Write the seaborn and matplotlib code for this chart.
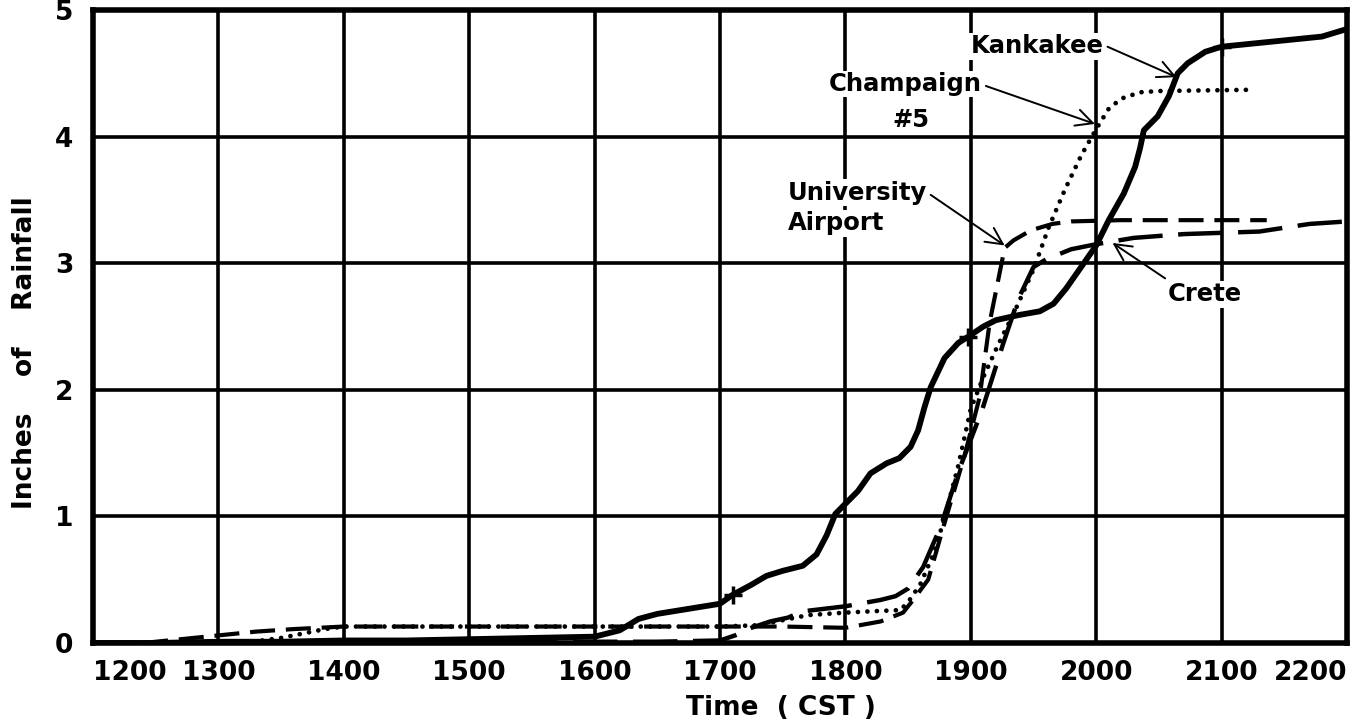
import matplotlib
matplotlib.use("Agg")
import matplotlib.pyplot as plt
import seaborn as sns

# Axis ticks (time in decimal hours, rainfall in inches)
hours = list(range(12, 23))
hour_labels = [f"{h}00" for h in hours]
inch_ticks = [0, 1, 2, 3, 4, 5]

# Cumulative rainfall curves (time in decimal hours CST, inches)
kankakee_t = [12.0, 12.5, 13.0, 13.5, 14.0, 14.5, 15.0, 15.5, 16.0, 16.2, 16.35, 16.5,
              16.75, 17.0, 17.1, 17.25, 17.37, 17.5, 17.66, 17.77, 17.85, 17.92, 18.0,
              18.1, 18.2, 18.33, 18.43, 18.52, 18.58, 18.63, 18.68, 18.79, 18.9, 18.98,
              19.1, 19.2, 19.38, 19.55, 19.66, 19.76, 19.88, 20.0, 20.1, 20.22, 20.31,
              20.35, 20.38, 20.49, 20.58, 20.65, 20.73, 20.87, 21.0, 21.3, 21.8, 22.0]
kankakee_in = [0.0, 0.0, 0.01, 0.01, 0.02, 0.02, 0.03, 0.04, 0.05, 0.10, 0.19, 0.23,
               0.27, 0.31, 0.38, 0.46, 0.53, 0.57, 0.61, 0.70, 0.85, 1.02, 1.10,
               1.20, 1.34, 1.42, 1.46, 1.55, 1.68, 1.86, 2.02, 2.25, 2.37, 2.42,
               2.50, 2.55, 2.59, 2.62, 2.68, 2.80, 2.97, 3.14, 3.34, 3.55, 3.76,
               3.91, 4.05, 4.16, 4.32, 4.50, 4.58, 4.67, 4.71, 4.74, 4.79, 4.85]

champaign_t = [13.35, 13.5, 13.7, 13.85, 14.0, 14.5, 15.0, 15.5, 16.0, 16.5, 17.0, 17.3,
               17.5, 17.7, 18.0, 18.2, 18.44, 18.52, 18.6, 18.71, 18.8, 18.9, 19.0, 19.1,
               19.22, 19.35, 19.5, 19.62, 19.75, 19.88, 20.0, 20.1, 20.2, 20.35, 20.5, 21.25]
champaign_in = [0.02, 0.04, 0.08, 0.11, 0.13, 0.13, 0.13, 0.13, 0.13, 0.13, 0.13, 0.14,
                0.18, 0.22, 0.24, 0.25, 0.26, 0.35, 0.47, 0.72, 1.02, 1.40, 1.85, 2.10,
                2.36, 2.62, 2.95, 3.28, 3.58, 3.85, 4.06, 4.22, 4.30, 4.35, 4.36, 4.37]

airport_t = [12.4, 12.7, 13.0, 13.3, 13.6, 14.0, 15.0, 16.0, 17.0, 17.5, 18.0, 18.28,
             18.46, 18.54, 18.66, 18.8, 18.95, 19.07, 19.15, 19.27, 19.34, 19.48, 19.65,
             19.8, 20.2, 21.0, 21.36]
airport_in = [0.0, 0.03, 0.06, 0.09, 0.11, 0.13, 0.13, 0.13, 0.13, 0.13, 0.12, 0.17,
              0.24, 0.34, 0.50, 0.98, 1.48, 1.94, 2.53, 3.12, 3.18, 3.26, 3.31,
              3.33, 3.34, 3.34, 3.34]

crete_t = [12.0, 13.0, 14.0, 15.0, 16.0, 16.5, 17.0, 17.12, 17.25, 17.4, 17.54, 17.66,
           18.0, 18.28, 18.4, 18.5, 18.62, 18.76, 18.9, 19.09, 19.26, 19.38, 19.5, 19.6,
           19.8, 20.0, 20.3, 20.7, 21.0, 21.3, 21.5, 21.7, 22.0]
crete_in = [0.0, 0.0, 0.0, 0.0, 0.01, 0.01, 0.02, 0.06, 0.12, 0.17, 0.20, 0.25,
            0.29, 0.34, 0.37, 0.43, 0.60, 0.92, 1.35, 1.84, 2.37, 2.72, 2.97, 3.03,
            3.11, 3.15, 3.20, 3.23, 3.24, 3.25, 3.28, 3.31, 3.33]

# Hourly check marks along the Kankakee trace
kankakee_marks = [17.1, 18.98, 21.0]

sns.set_style("white")
plt.rcParams["font.family"] = ["DejaVu Sans"]
plt.rcParams["font.weight"] = "bold"
plt.rcParams["text.color"] = "black"
plt.rcParams["axes.labelcolor"] = "black"
plt.rcParams["xtick.color"] = "black"
plt.rcParams["ytick.color"] = "black"

W, H = 1367, 728
fig = plt.figure(figsize=(W / 100, H / 100), dpi=100)
ax = fig.add_axes([93 / W, 1 - 643 / H, (1347 - 93) / W, (643 - 10) / H])

ax.set_xlim(hours[0], hours[-1])
ax.set_ylim(inch_ticks[0], inch_ticks[-1])
ax.set_xticks(hours)
ax.set_xticklabels(hour_labels)
ax.set_yticks(inch_ticks)
ax.set_yticklabels([str(v) for v in inch_ticks])
ax.grid(True, color="black", linewidth=2.6)
ax.set_axisbelow(True)
for sp in ax.spines.values():
    sp.set_color("black")
    sp.set_linewidth(4)
    sp.set_visible(True)
ax.tick_params(axis="both", length=0, labelsize=19, colors="black", labelcolor="black")
ax.tick_params(axis="x", pad=12)
ax.tick_params(axis="y", pad=14)
xt = ax.get_xticklabels()
xt[0].set_ha("left")
xt[-1].set_ha("right")

common = dict(ax=ax, color="black", estimator=None, sort=False, legend=False)
sns.lineplot(x=crete_t, y=crete_in, linewidth=3.2, linestyle=(0, (10, 3.5)), **common)
sns.lineplot(x=airport_t, y=airport_in, linewidth=3.0, linestyle=(0, (6, 2.6)), **common)
sns.lineplot(x=champaign_t, y=champaign_in, linewidth=3.4, linestyle=(0, (0.01, 2.0)),
             dash_capstyle="round", **common)
sns.lineplot(x=kankakee_t, y=kankakee_in, linewidth=4.2, solid_capstyle="round", **common)

mark_y = [kankakee_in[kankakee_t.index(t)] for t in kankakee_marks]
sns.scatterplot(x=kankakee_marks, y=mark_y, ax=ax, marker="+", s=150, color="black",
                linewidth=2.5, legend=False, zorder=5)

# Station labels with leader arrows
box = dict(facecolor="white", edgecolor="none", pad=1.0)
tfs = 17.5
ax.text(19.0, 4.66, "Kankakee", fontsize=tfs, ha="left", va="baseline", bbox=box, zorder=6)
ax.text(19.09, 4.36, "Champaign", fontsize=tfs, ha="right", va="baseline", bbox=box, zorder=6)
ax.text(18.52, 4.13, "#5", fontsize=tfs, ha="center", va="center", bbox=box, zorder=6)
ax.text(17.54, 3.50, "University", fontsize=tfs, ha="left", va="baseline", bbox=box, zorder=6)
ax.text(17.54, 3.26, "Airport", fontsize=tfs, ha="left", va="baseline", bbox=box, zorder=6)
ax.text(20.57, 2.70, "Crete", fontsize=tfs, ha="left", va="baseline", bbox=box, zorder=6)

arrow = dict(arrowstyle="->,head_length=0.6,head_width=0.3", color="black", lw=1.4,
             shrinkA=0, shrinkB=0, mutation_scale=20)
for tail, tip in [((20.09, 4.71), (20.64, 4.47)),
                  ((19.12, 4.40), (19.99, 4.10)),
                  ((18.68, 3.54), (19.27, 3.14)),
                  ((20.55, 2.88), (20.13, 3.16))]:
    ax.annotate("", xy=tip, xytext=tail, arrowprops=arrow, zorder=6)

fig.text(25 / W, 1 - 353 / H, "Inches    of    Rainfall", rotation=90, fontsize=19,
         ha="center", va="center")
fig.text(781 / W, 1 - 708 / H, "Time  ( CST )", fontsize=19, ha="center", va="center")

fig.savefig("out.png", dpi=100, facecolor="white")
